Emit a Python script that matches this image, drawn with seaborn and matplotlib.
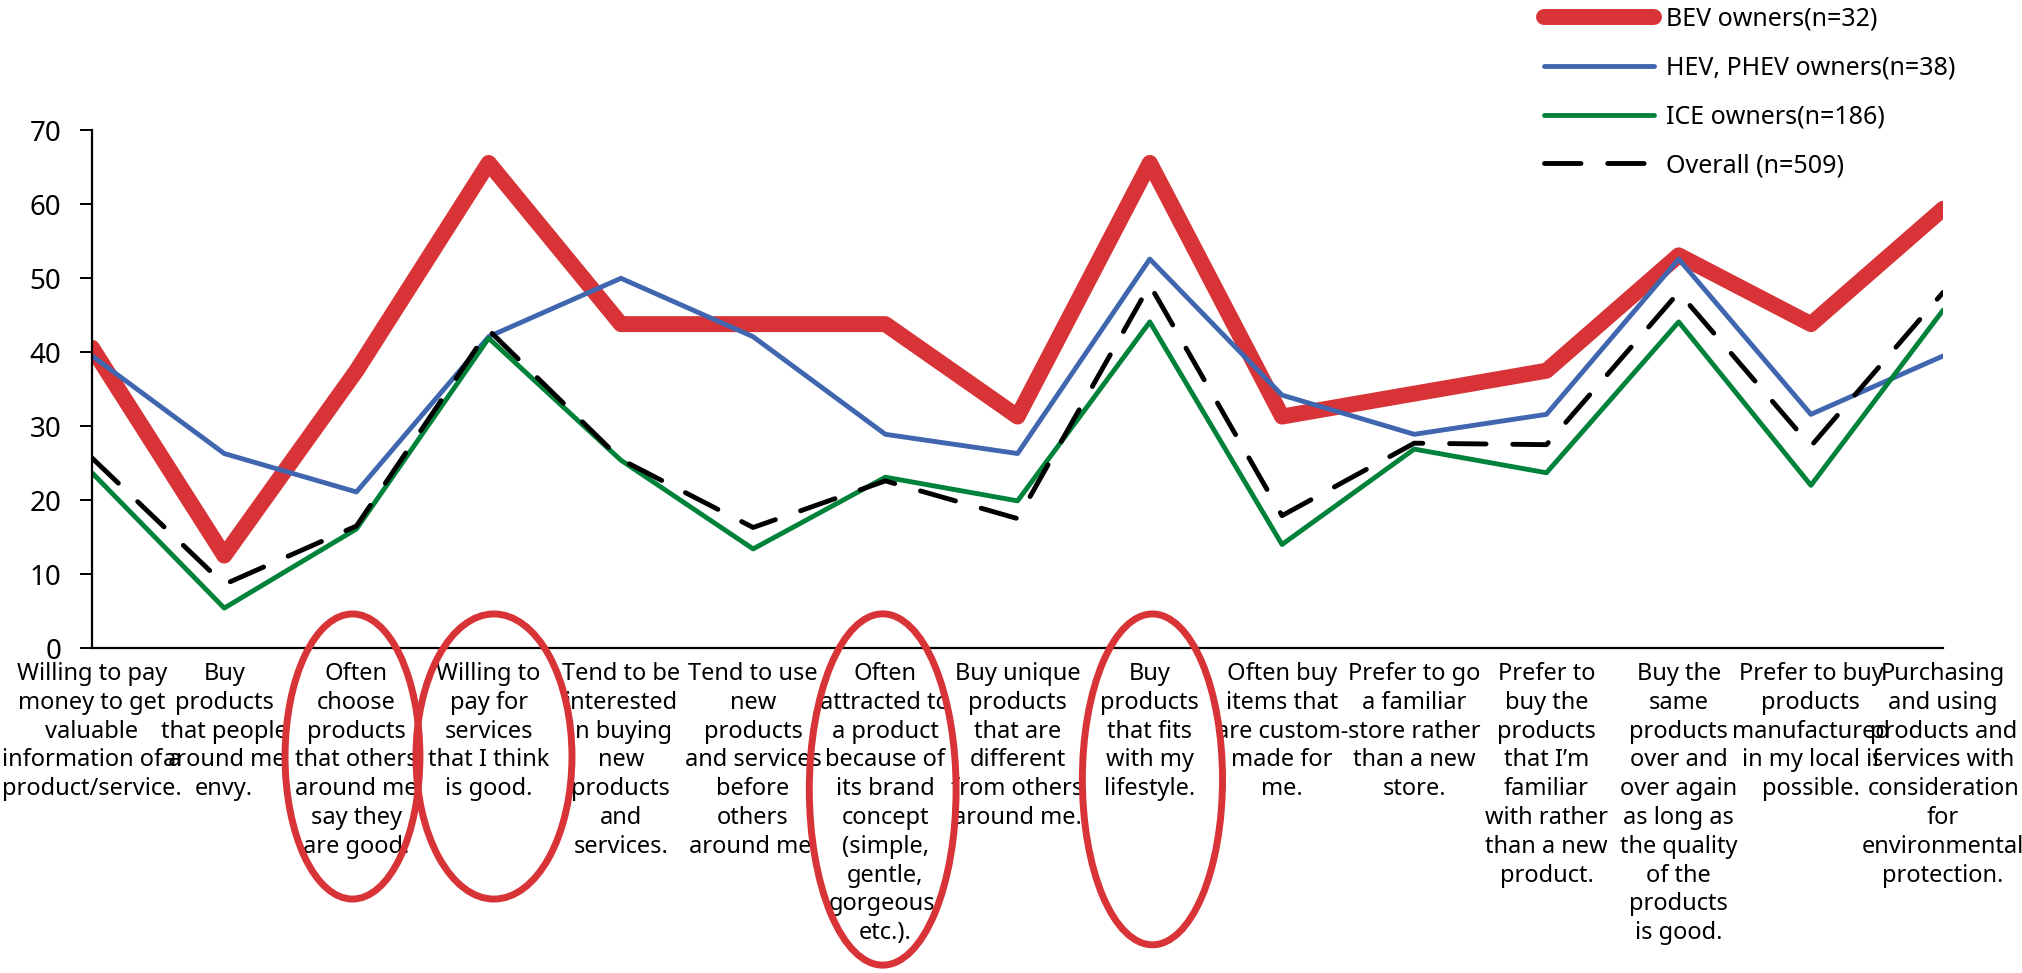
import numpy as np
import pandas as pd
import matplotlib
matplotlib.use("Agg")
import matplotlib.pyplot as plt
import seaborn as sns
from matplotlib.patches import Ellipse
from matplotlib.transforms import blended_transform_factory
from matplotlib.font_manager import FontProperties

# ---------------- data ----------------
categories = [
    "Willing to pay\nmoney to get\nvaluable\ninformation of a\nproduct/service.",
    "Buy\nproducts\nthat people\naround me\nenvy.",
    "Often\nchoose\nproducts\nthat others\naround me\nsay they\nare good.",
    "Willing to\npay for\nservices\nthat I think\nis good.",
    "Tend to be\ninterested\nin buying\nnew\nproducts\nand\nservices.",
    "Tend to use\nnew\nproducts\nand services\nbefore\nothers\naround me.",
    "Often\nattracted to\na product\nbecause of\nits brand\nconcept\n(simple,\ngentle,\ngorgeous,\netc.).",
    "Buy unique\nproducts\nthat are\ndifferent\nfrom others\naround me.",
    "Buy\nproducts\nthat fits\nwith my\nlifestyle.",
    "Often buy\nitems that\nare custom-\nmade for\nme.",
    "Prefer to go\na familiar\nstore rather\nthan a new\nstore.",
    "Prefer to\nbuy the\nproducts\nthat I\u2019m\nfamiliar\nwith rather\nthan a new\nproduct.",
    "Buy the\nsame\nproducts\nover and\nover again\nas long as\nthe quality\nof the\nproducts\nis good.",
    "Prefer to buy\nproducts\nmanufactured\nin my local if\npossible.",
    "Purchasing\nand using\nproducts and\nservices with\nconsideration\nfor\nenvironmental\nprotection.",
]

bev = [40.6, 12.5, 37.5, 65.6, 43.8, 43.8, 43.8, 31.3, 65.6, 31.3, 34.4, 37.5, 53.1, 43.8, 59.4]
hev = [39.5, 26.3, 21.1, 42.1, 50.0, 42.1, 28.9, 26.3, 52.6, 34.2, 28.9, 31.6, 52.6, 31.6, 39.5]
ice = [23.7, 5.4, 16.1, 41.9, 25.4, 13.4, 23.1, 19.9, 44.1, 14.0, 26.9, 23.7, 44.1, 22.0, 45.7]
overall = [25.7, 8.6, 16.5, 43.0, 25.5, 16.3, 22.6, 17.5, 49.1, 17.9, 27.7, 27.5, 48.1, 27.3, 48.1]

series_names = ["BEV owners(n=32)", "HEV, PHEV owners(n=38)", "ICE owners(n=186)", "Overall (n=509)"]
y_ticks = [0, 10, 20, 30, 40, 50, 60, 70]
highlighted = [2, 3, 6, 8]

# ---------------- style ----------------
RED = "#D83437"
BLUE = "#3F66AE"
GREEN = "#00823A"
BLACK = "#000000"
FAMILY = ["Noto Sans", "DejaVu Sans"]
LABEL_SIZE = 17
LINE_PITCH_PX = 28.8   # distance between label baselines in the reference

sns.set_theme(style="white")
plt.rcParams["font.family"] = FAMILY

fig = plt.figure(figsize=(20.22, 9.73), dpi=100)
ax = fig.add_axes([0.0455, 0.334, 0.9155, 0.532])

# line spacing so that the label baseline pitch matches the reference
renderer = fig.canvas.get_renderer()
fp = FontProperties(family=FAMILY, size=LABEL_SIZE)
_, lp_h, lp_d = renderer.get_text_width_height_descent("lp", fp, ismath=False)
label_linespacing = (LINE_PITCH_PX - lp_d) / (lp_h - lp_d)

x = np.arange(len(categories))
df = pd.DataFrame({"x": x, "bev": bev, "hev": hev, "ice": ice, "overall": overall})

sns.lineplot(data=df, x="x", y="bev", ax=ax, color=RED, linewidth=11.5,
             label=series_names[0], solid_joinstyle="round", solid_capstyle="round")
sns.lineplot(data=df, x="x", y="hev", ax=ax, color=BLUE, linewidth=3.5,
             label=series_names[1], solid_joinstyle="round", solid_capstyle="round")
sns.lineplot(data=df, x="x", y="ice", ax=ax, color=GREEN, linewidth=3.5,
             label=series_names[2], solid_joinstyle="round", solid_capstyle="round")
sns.lineplot(data=df, x="x", y="overall", ax=ax, color=BLACK, linewidth=3.5,
             label=series_names[3], linestyle=(0, (7.5, 5.5)),
             dash_capstyle="round", dash_joinstyle="round")

ax.set_xlim(0, len(categories) - 1)
ax.set_ylim(0, 70)
ax.set_yticks(y_ticks)
ax.set_yticklabels([str(t) for t in y_ticks], fontsize=20, color="black")
ax.set_xticks(x)
ax.set_xticklabels(categories, fontsize=LABEL_SIZE, color="black",
                   linespacing=label_linespacing, va="top", ha="center")
ax.set_xlabel("")
ax.set_ylabel("")

for s in ["top", "right"]:
    ax.spines[s].set_visible(False)
for s in ["left", "bottom"]:
    ax.spines[s].set_color("black")
    ax.spines[s].set_linewidth(1.6)

ax.tick_params(axis="y", which="major", direction="out", length=9, width=1.4,
               color="black", pad=13, left=True)
ax.tick_params(axis="x", which="major", length=0, pad=10)

leg = ax.legend(loc="upper left", bbox_to_anchor=(0.7635, 0.993),
                bbox_transform=fig.transFigure, frameon=False, fontsize=18,
                handlelength=4.4, handletextpad=0.5, labelspacing=0.95,
                borderpad=0.0, borderaxespad=0.0)
for t in leg.get_texts():
    t.set_color("black")

# highlight ellipses around selected category labels
# (x offset from category, figure-y centre, width in categories, figure height)
trans = blended_transform_factory(ax.transData, fig.transFigure)
ell_specs = {2: (-0.03, 0.2225, 1.02, 0.293), 3: (0.04, 0.2225, 1.18, 0.293),
             6: (-0.02, 0.1886, 1.11, 0.361), 8: (0.02, 0.199, 1.06, 0.340)}
for idx in highlighted:
    dx, cy, w, h = ell_specs[idx]
    e = Ellipse((x[idx] + dx, cy), width=w, height=h, transform=trans, fill=False,
                edgecolor=RED, linewidth=5, clip_on=False, zorder=10)
    fig.add_artist(e)

fig.savefig("out.png", dpi=100)
